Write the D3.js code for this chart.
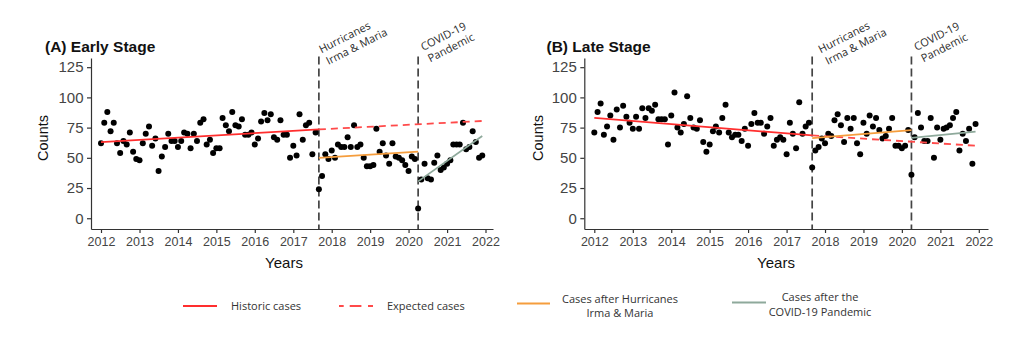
<!DOCTYPE html>
<html>
<head>
<meta charset="utf-8">
<script src="https://cdn.jsdelivr.net/npm/d3@7/dist/d3.min.js"></script>
<style>
  body { margin: 0; background: #fff; }
  svg { display: block; }
</style>
</head>
<body>
<svg id="chart" width="1024" height="342"></svg>
<script>
// ---- data ---------------------------------------------------------------
const yearTicks = [2012, 2013, 2014, 2015, 2016, 2017, 2018, 2019, 2020, 2021, 2022];
const countTicks = [0, 25, 50, 75, 100, 125];

// Monthly case counts, January 2012 – December 2021
const earlyCounts = [
  62, 79, 88, 72, 79, 62, 54, 64, 61, 71, 55, 49,
  48, 62, 70, 76, 60, 66, 39, 51, 59, 70, 64, 64,
  59, 64, 71, 70, 58, 70, 64, 79, 82, 61, 65, 54,
  58, 58, 83, 77, 72, 88, 77, 76, 82, 69, 69, 71,
  61, 66, 80, 87, 81, 86, 67, 65, 81, 69, 69, 50,
  60, 52, 86, 65, 77, 79, 53, 71, 24, 35, 53, 49,
  56, 50, 61, 59, 59, 67, 59, 77, 59, 61, 50, 43,
  43, 44, 74, 55, 62, 52, 45, 62, 51, 50, 48, 44,
  39, 51, 49, 8, 32, 45, 33, 32, 46, 52, 40, 42,
  45, 48, 61, 61, 61, 79, 57, 59, 72, 63, 50, 52
];
const lateCounts = [
  71, 88, 95, 69, 76, 85, 65, 90, 75, 93, 84, 79,
  74, 84, 74, 91, 83, 91, 89, 94, 82, 82, 82, 61,
  85, 104, 75, 71, 78, 101, 83, 75, 74, 81, 63, 55,
  61, 72, 76, 71, 83, 94, 71, 67, 69, 69, 64, 74,
  60, 78, 87, 79, 79, 70, 76, 83, 60, 65, 67, 65,
  53, 79, 70, 58, 96, 70, 76, 79, 42, 56, 59, 66,
  62, 70, 68, 81, 86, 77, 63, 83, 74, 83, 62, 53,
  79, 70, 85, 76, 83, 73, 66, 68, 74, 83, 60, 60,
  58, 60, 73, 36, 67, 87, 75, 64, 64, 83, 50, 75,
  65, 74, 75, 77, 83, 88, 56, 70, 64, 74, 45, 78
];

// Fitted trend values [start, end] for each period
const earlyHistoric  = [63, 73.5];
const earlyExpected  = [73.5, 80.5];
const earlyHurricane = [50, 55.2];
const earlyCovid     = [30.5, 68];
const lateHistoric   = [83, 68.5];
const lateExpected   = [68.5, 60];
const lateHurricane  = [66.3, 73];
const lateCovid      = [66.5, 71.7];

// Period boundaries (first month, hurricane month, pandemic month, last month)
const periodMonths = ["2012-01", "2017-09", "2020-04", "2021-12"];
const eventLabels = [["Hurricanes", "Irma & Maria"], ["COVID-19", "Pandemic"]];
const panelTitles = ["(A) Early Stage", "(B) Late Stage"];
const legendLabels = [
  ["Historic cases"],
  ["Expected cases"],
  ["Cases after Hurricanes", "Irma & Maria"],
  ["Cases after the", "COVID-19 Pandemic"]
];

// ---- styles -------------------------------------------------------------
const RED = "#ff2e2e", RED_DASH = "#ff4a4a", ORANGE = "#f59d3d", GREY = "#8ea99b";
const AXIS_FONT = "'Liberation Sans', Arial, sans-serif";
const NOTE_FONT = "'Open Sans', 'Noto Sans', sans-serif";

const parseMonth = d3.timeParse("%Y-%m");
const months = d3.range(earlyCounts.length).map(i => new Date(2012, i, 1));
const [tStart, tHurricane, tCovid, tEnd] = periodMonths.map(parseMonth);

const svg = d3.select("#chart");
svg.append("rect").attr("width", 1024).attr("height", 342).attr("fill", "#fff");

const panels = [
  {
    counts: earlyCounts, title: panelTitles[0],
    trends: { historic: earlyHistoric, expected: earlyExpected, hurricane: earlyHurricane, covid: earlyCovid },
    left: 91, right: 493, x2012: 101, x2022: 485.5,
    titleX: 45, countsX: 42.5, yearsX: 284,
    noteOffsets: [[2.5, 0], [5, -2.5]]
  },
  {
    counts: lateCounts, title: panelTitles[1],
    trends: { historic: lateHistoric, expected: lateExpected, hurricane: lateHurricane, covid: lateCovid },
    left: 584.3, right: 988, x2012: 594.3, x2022: 978.8,
    titleX: 546.5, countsX: 537.5, yearsX: 776,
    noteOffsets: [[8.5, 0], [5, -2.5]]
  }
];

const plotTop = 58, plotBottom = 229;

panels.forEach(p => {
  const g = svg.append("g");

  // time scale anchored on the 2012 / 2022 ticks, stretched to the axis extent
  const xBase = d3.scaleTime()
    .domain([new Date(2012, 0, 1), new Date(2022, 0, 1)])
    .range([p.x2012, p.x2022]);
  const x = d3.scaleTime()
    .domain([xBase.invert(p.left), xBase.invert(p.right)])
    .range([p.left, p.right]);
  const y = d3.scaleLinear().domain([-8.9, 132.6]).range([plotBottom, plotTop]);

  // axes
  const yAxis = g.append("g")
    .attr("transform", `translate(${p.left},0)`)
    .call(d3.axisLeft(y).tickValues(countTicks).tickSize(4).tickSizeOuter(0).tickPadding(3.5));
  const xAxis = g.append("g")
    .attr("transform", `translate(0,${plotBottom})`)
    .call(d3.axisBottom(x)
      .tickValues(yearTicks.map(yr => new Date(yr, 0, 1)))
      .tickFormat(d3.timeFormat("%Y"))
      .tickSize(4).tickSizeOuter(0).tickPadding(4.5));
  [yAxis, xAxis].forEach(a => {
    a.select(".domain").attr("stroke", "#333").attr("stroke-width", 1.2);
    a.selectAll(".tick line").attr("stroke", "#333").attr("stroke-width", 1.2);
    a.selectAll(".tick text").attr("fill", "#444").attr("font-family", AXIS_FONT);
  });
  yAxis.selectAll(".tick text").attr("font-size", 15);
  xAxis.selectAll(".tick text").attr("font-size", 12.5);

  // axis titles and panel title
  g.append("text")
    .attr("transform", `translate(${p.countsX},${138}) rotate(-90)`)
    .attr("text-anchor", "middle").attr("dominant-baseline", "central")
    .attr("font-family", AXIS_FONT).attr("font-size", 14.5).attr("fill", "#111")
    .text("Counts");
  g.append("text")
    .attr("x", p.yearsX).attr("y", 267.5)
    .attr("text-anchor", "middle")
    .attr("font-family", AXIS_FONT).attr("font-size", 15).attr("fill", "#111")
    .text("Years");
  g.append("text")
    .attr("x", p.titleX).attr("y", 51.5)
    .attr("font-family", AXIS_FONT).attr("font-size", 15.5).attr("font-weight", "bold")
    .attr("fill", "#111")
    .text(p.title);

  // event markers with slanted notes
  [tHurricane, tCovid].forEach((t, k) => {
    const ex = x(t);
    g.append("line")
      .attr("x1", ex).attr("x2", ex).attr("y1", 56.5).attr("y2", plotBottom)
      .attr("stroke", "#444").attr("stroke-width", 1.7).attr("stroke-dasharray", "8,4");
    const [dx, dy] = p.noteOffsets[k];
    const note = g.append("text")
      .attr("transform", `translate(${ex + dx},${53.5 + dy}) rotate(-27)`)
      .attr("font-family", NOTE_FONT).attr("font-size", 11).attr("fill", "#2b2b2b");
    eventLabels[k].forEach((line, j) => {
      note.append("tspan").attr("x", j * 1).attr("dy", j ? 13.5 : 0).text(line);
    });
  });

  // monthly points
  g.append("g").selectAll("circle")
    .data(p.counts)
    .join("circle")
    .attr("cx", (d, i) => x(months[i]))
    .attr("cy", d => y(d))
    .attr("r", 3)
    .attr("fill", "#000");

  // trend segments
  const seg = (t0, t1, vals, color, dash) => {
    g.append("line")
      .attr("x1", x(t0)).attr("x2", x(t1))
      .attr("y1", y(vals[0])).attr("y2", y(vals[1]))
      .attr("stroke", color).attr("stroke-width", 1.8)
      .attr("stroke-dasharray", dash || null);
  };
  seg(tStart, tHurricane, p.trends.historic, RED);
  seg(tHurricane, tEnd, p.trends.expected, RED_DASH, "7,5");
  seg(tHurricane, tCovid, p.trends.hurricane, ORANGE);
  seg(tCovid, tEnd, p.trends.covid, GREY);
});

// ---- legend -------------------------------------------------------------
const legendLayout = [
  { x0: 183, x1: 217, ly: 306,   tx: 231, anchor: "start",  ty: 304.5, color: RED,      dash: null },
  { x0: 339, x1: 373, ly: 306,   tx: 387, anchor: "start",  ty: 304.5, color: RED_DASH, dash: "4.7,6,11.7,6.6,5" },
  { x0: 517, x1: 550, ly: 303.5, tx: 620, anchor: "middle", ty: 297.5, color: ORANGE,   dash: null },
  { x0: 732, x1: 766, ly: 302.5, tx: 820, anchor: "middle", ty: 296,   color: GREY,     dash: null }
];
const legend = svg.append("g");
legendLabels.forEach((lines, i) => {
  const L = legendLayout[i];
  legend.append("line")
    .attr("x1", L.x0).attr("x2", L.x1).attr("y1", L.ly).attr("y2", L.ly)
    .attr("stroke", L.color).attr("stroke-width", 1.8)
    .attr("stroke-dasharray", L.dash);
  const t = legend.append("text")
    .attr("font-family", NOTE_FONT).attr("font-size", 11).attr("fill", "#333")
    .attr("text-anchor", L.anchor).attr("dominant-baseline", "central");
  lines.forEach((s, j) => {
    t.append("tspan").attr("x", L.tx).attr("y", L.ty + j * 14.5).text(s);
  });
});
</script>
</body>
</html>
